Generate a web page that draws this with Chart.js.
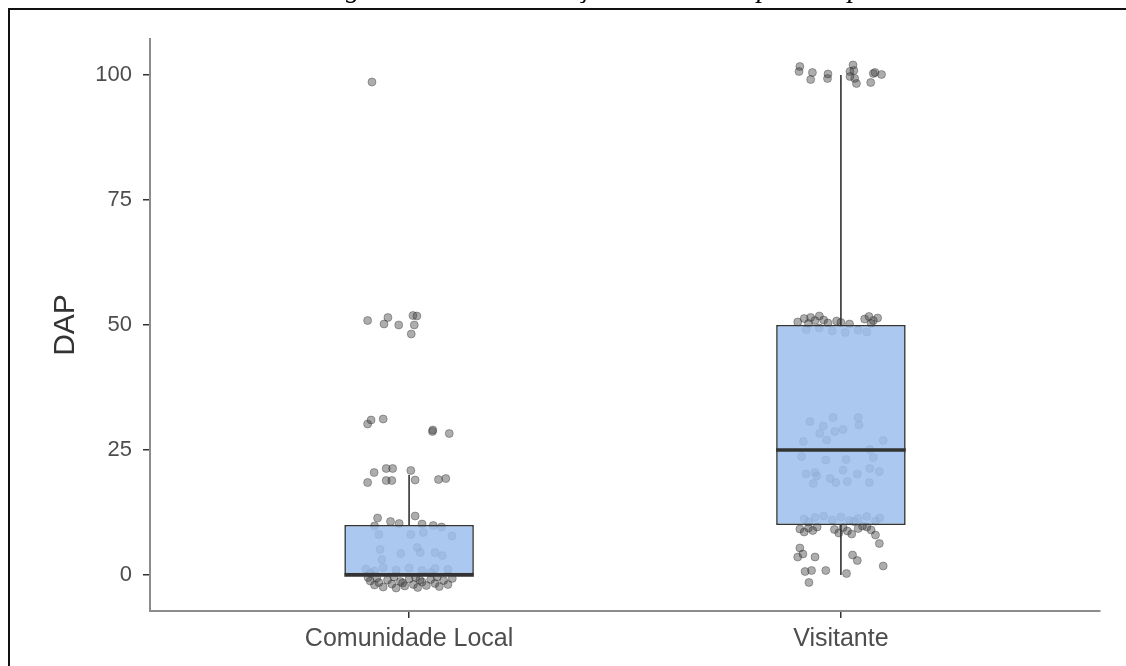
<!DOCTYPE html>
<html><head><meta charset="utf-8">
<script src="https://cdn.jsdelivr.net/npm/chart.js@4/dist/chart.umd.min.js"></script>
<style>html,body{margin:0;padding:0;background:#fff;overflow:hidden;} canvas{display:block;}</style>
</head><body>
<canvas id="c" width="1126" height="666"></canvas>
<script>
// ---- data ----
const categories = ['Comunidade Local', 'Visitante'];
const yTicks = [0, 25, 50, 75, 100];
const yAxisTitle = 'DAP';
// caption of the page, mostly cut off at the top of the picture
const captionParts = ['Figura 5 – Distribui', 'ção da DAP ', 'por Grupo'];

// box-plot statistics per category
const boxMin = [0, 0];
const boxQ1 = [0, 10];
const boxMedian = [0, 25];
const boxQ3 = [10, 50];
const boxMax = [20, 100];

const comunidadeJitterX = [-0.086,
  -0.096,-0.049,-0.058,-0.024,0.009,0.018,0.012,0.005,
  -0.096,-0.088,-0.060,0.054,0.055,0.093,
  -0.081,-0.053,-0.038,0.004,-0.096,-0.053,-0.040,0.014,0.068,0.085,
  -0.073,-0.043,-0.023,0.014,0.056,0.030,0.075,-0.080,
  -0.070,0.004,0.033,0.099,-0.067,-0.019,0.019,0.026,0.060,0.077,-0.063,
  -0.100,-0.080,-0.060,-0.030,0.000,0.030,0.060,0.090,-0.090,0.050,
  -0.090,-0.080,-0.070,-0.060,-0.050,-0.040,-0.030,-0.020,-0.010,0.000,0.010,0.020,0.030,0.040,0.050,0.060,0.070,0.080,0.090,0.100,-0.095,-0.075,-0.035,0.015,0.065,0.025,-0.015];
const comunidadeY = [98.6,
  50.9,51.5,50.2,50.0,51.9,51.8,50.0,48.2,
  30.2,31.0,31.2,28.7,29.0,28.3,
  20.5,21.3,21.3,20.9,18.5,18.9,18.9,19.0,19.1,19.3,
  11.4,10.7,10.3,11.8,9.9,10.2,9.6,9.8,
  8.1,8.1,8.5,7.8,5.1,4.3,5.5,4.5,4.5,3.9,3.1,
  1.2,0.8,1.5,1.0,1.4,0.9,1.3,1.1,0.4,0.5,
  -1.2,-2.0,-1.5,-2.4,-1.0,-1.8,-2.6,-1.3,-2.2,-0.8,-1.9,-2.5,-1.4,-2.1,-0.9,-1.7,-2.3,-1.1,-1.9,-0.7,-0.5,-0.6,-0.4,-0.5,-0.4,-1.0,-1.6];

const visitanteJitterX = [
  -0.095,-0.097,-0.066,-0.070,-0.030,-0.031,0.028,0.021,0.032,0.036,0.021,0.075,0.094,0.069,0.079,0.030,
  -0.100,-0.085,-0.070,-0.060,-0.050,-0.040,-0.030,-0.010,0.000,0.020,0.055,0.065,0.075,0.085,0.070,-0.075,
  -0.080,-0.050,-0.020,0.010,0.040,0.060,
  -0.072,-0.018,-0.041,0.040,0.042,-0.049,-0.014,0.005,-0.087,-0.033,0.098,0.067,-0.091,-0.035,0.012,0.075,-0.081,-0.060,-0.064,-0.025,-0.012,0.005,0.015,0.038,0.067,0.089,0.066,-0.056,
  -0.085,-0.060,-0.040,-0.020,0.000,0.020,0.040,0.060,0.080,0.090,-0.075,0.030,
  -0.095,-0.085,-0.075,-0.065,-0.055,-0.015,-0.005,0.005,0.015,0.025,0.040,0.060,0.070,0.080,0.050,
  -0.095,-0.100,-0.088,-0.060,0.027,0.038,0.089,0.098,-0.083,-0.068,-0.035,0.013,-0.074];
const visitanteY = [
  101.7,100.7,100.5,99.1,100.2,99.3,102.0,100.7,99.3,98.3,99.7,100.3,100.1,98.5,100.5,100.9,
  50.6,51.3,51.5,50.9,51.8,51.0,50.4,50.8,50.5,50.2,51.2,51.7,50.9,51.4,50.3,50.3,
  49.1,49.4,48.8,48.5,49.0,48.6,
  30.7,31.5,29.8,31.5,30.0,28.3,28.7,29.1,26.7,27.0,26.9,25.1,23.7,23.0,23.1,23.5,20.2,20.5,18.3,19.3,18.5,21.0,18.7,20.2,21.3,20.7,18.5,19.8,
  11.2,11.5,11.8,11.0,11.6,10.9,11.3,11.7,10.8,11.4,10.6,10.7,
  9.2,8.6,9.4,8.9,9.6,9.1,8.4,9.5,8.8,8.2,9.3,9.6,9.0,8.0,9.8,
  5.4,3.6,4.2,3.6,4.0,2.9,6.3,1.8,0.7,0.9,0.9,0.3,-1.5];

// ---- styles ----
const BOX_HALF = 0.15;
const AXIS_GREY = '#8c8c8c';
const INK = '#333333';
const TICK_TEXT = '#4d4d4d';
const FONT = "'Liberation Sans', Arial, sans-serif";

// ---- derived datasets ----
const pointData = [];
comunidadeY.forEach((v, i) => pointData.push({x: 1 + comunidadeJitterX[i], y: v}));
visitanteY.forEach((v, i) => pointData.push({x: 2 + visitanteJitterX[i], y: v}));

const boxData = categories.map((c, i) => ({x: i + 1, y: [boxQ1[i], boxQ3[i]]}));
const whiskerData = [];
const medianData = [];
categories.forEach((c, i) => {
  const cx = i + 1;
  whiskerData.push({x: cx, y: boxQ3[i]}, {x: cx, y: boxMax[i]}, {x: cx, y: null});
  if (boxMin[i] < boxQ1[i]) whiskerData.push({x: cx, y: boxMin[i]}, {x: cx, y: boxQ1[i]}, {x: cx, y: null});
  medianData.push({x: cx - BOX_HALF, y: boxMedian[i]}, {x: cx + BOX_HALF, y: boxMedian[i]}, {x: cx, y: null});
});

const captionX = [321, 578, 757];
const framePlugin = {
  id: 'frame',
  beforeDraw(chart) {
    const ctx = chart.ctx;
    ctx.save();
    ctx.fillStyle = '#fff';
    ctx.fillRect(0, 0, chart.width, chart.height);
    ctx.restore();
  },
  afterDraw(chart) {
    const ctx = chart.ctx;
    ctx.save();
    ctx.strokeStyle = '#111';
    ctx.lineWidth = 2;
    ctx.beginPath();
    ctx.moveTo(9, chart.height + 2);
    ctx.lineTo(9, 9);
    ctx.lineTo(chart.width + 2, 9);
    ctx.stroke();
    ctx.fillStyle = '#000';
    ctx.font = "italic 28px 'Liberation Serif', 'Times New Roman', serif";
    ctx.textBaseline = 'alphabetic';
    ctx.textAlign = 'left';
    captionParts.forEach((t, i) => ctx.fillText(t, captionX[i], -3.5));
    ctx.restore();
  }
};

const gridCommon = {display: true, drawOnChartArea: false, drawTicks: true, tickLength: 7, color: INK, lineWidth: 1.5, offset: false};
const borderCommon = {display: true, color: AXIS_GREY, width: 2};

new Chart(document.getElementById('c'), {
  type: 'scatter',
  data: {
    datasets: [
      {type: 'line', data: medianData, borderColor: INK, borderWidth: 3.5, pointRadius: 0, fill: false, spanGaps: false, order: 0},
      {type: 'bar', data: boxData, backgroundColor: 'rgba(156,190,237,0.85)', borderColor: INK, borderWidth: 1.6,
        borderSkipped: false, barPercentage: 0.3, categoryPercentage: 1, order: 1},
      {type: 'line', data: whiskerData, borderColor: INK, borderWidth: 1.6, pointRadius: 0, fill: false, spanGaps: false, order: 2},
      {type: 'scatter', data: pointData, backgroundColor: 'rgba(60,60,60,0.42)', borderColor: 'rgba(40,40,40,0.45)',
        borderWidth: 0.8, pointRadius: 4, order: 3}
    ]
  },
  options: {
    responsive: false,
    animation: false,
    events: [],
    layout: {padding: {left: 48, top: 39, right: 26, bottom: 0}},
    plugins: {legend: {display: false}, tooltip: {enabled: false}},
    scales: {
      x: {
        type: 'linear', min: 0.4, max: 2.6, offset: false,
        afterBuildTicks: s => { s.ticks = categories.map((c, i) => ({value: i + 1})); },
        afterFit: s => { s.height = 55; },
        grid: gridCommon, border: borderCommon,
        ticks: {autoSkip: false, maxRotation: 0, padding: 6, color: TICK_TEXT, font: {family: FONT, size: 25},
          callback: v => categories[Math.round(v) - 1] || ''}
      },
      y: {
        type: 'linear', min: -7.2, max: 107.2,
        afterBuildTicks: s => { s.ticks = yTicks.map(v => ({value: v})); },
        afterFit: s => { s.width = 102; },
        grid: gridCommon, border: borderCommon,
        ticks: {padding: 11, color: TICK_TEXT, font: {family: FONT, size: 22}},
        title: {display: true, text: yAxisTitle, color: INK, padding: 0, font: {family: FONT, size: 30}}
      }
    }
  },
  plugins: [framePlugin]
});
</script>
</body></html>
